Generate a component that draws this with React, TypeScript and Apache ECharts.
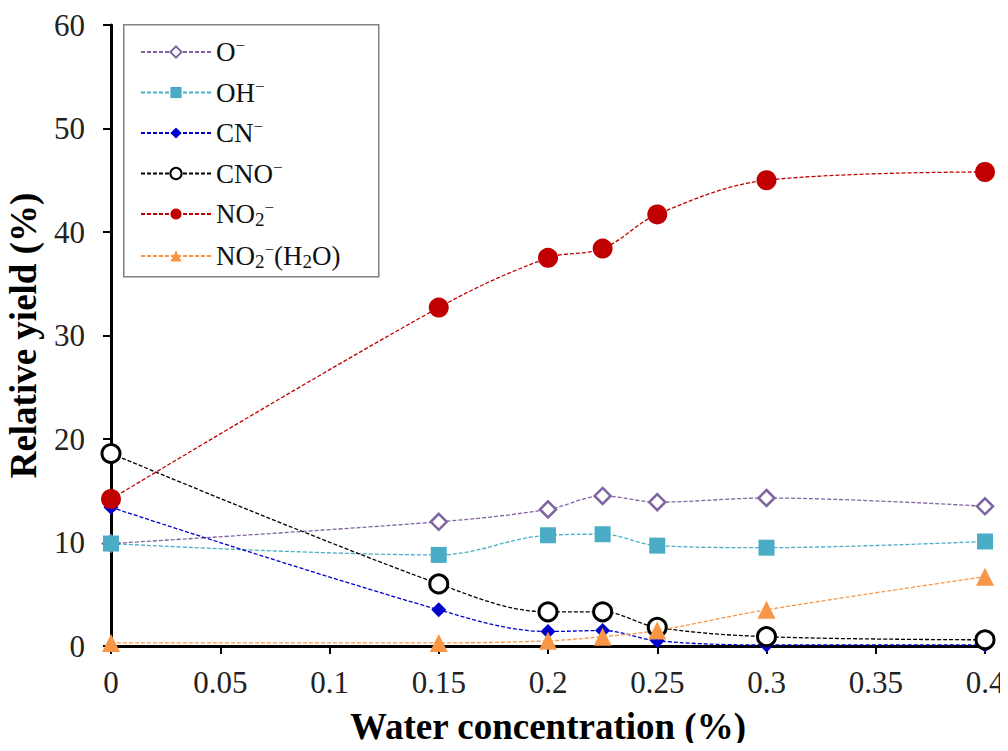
import React, { useEffect, useRef } from "react";
import * as echarts from "echarts";

const xValues = [0, 0.15, 0.2, 0.225, 0.25, 0.3, 0.4];
const xTicks = ["0", "0.05", "0.1", "0.15", "0.2", "0.25", "0.3", "0.35", "0.4"];
const yTicks = [0, 10, 20, 30, 40, 50, 60];

const oMinus = [9.9, 12.0, 13.2, 14.5, 13.9, 14.3, 13.5];
const ohMinus = [9.9, 8.8, 10.7, 10.8, 9.7, 9.5, 10.1];
const cnMinus = [13.4, 3.5, 1.4, 1.5, 0.5, 0.1, 0.1];
const cnoMinus = [18.6, 6.0, 3.3, 3.3, 1.8, 0.9, 0.6];
const no2Minus = [14.2, 32.7, 37.5, 38.4, 41.7, 45.0, 45.8];
const no2H2O = [0.3, 0.3, 0.5, 0.9, 1.5, 3.5, 6.7];

const seriesNames = ["O-", "OH-", "CN-", "CNO-", "NO2-", "NO2-(H2O)"];
const legendRich: Record<string, string> = {
  "O-": "{n|O}{sup|−}",
  "OH-": "{n|OH}{sup|−}",
  "CN-": "{n|CN}{sup|−}",
  "CNO-": "{n|CNO}{sup|−}",
  "NO2-": "{n|NO}{sub|2}{sup|−}",
  "NO2-(H2O)": "{n|NO}{sub|2}{sup|−}{n|(H}{sub|2}{n|O)}",
};

const FONT = "'Liberation Serif', 'Times New Roman', serif";

export default function App() {
  const ref = useRef<HTMLDivElement>(null);
  useEffect(() => {
    if (!ref.current) return;
    const chart = echarts.init(ref.current, undefined, { renderer: "svg" });
    const pair = (ys: number[]) => xValues.map((x, i) => [x, ys[i]]);
    const dash = [4, 2];
    const mk = (
      name: string,
      ys: number[],
      color: string,
      symbol: string,
      size: number,
      itemStyle: any
    ) => ({
      name,
      type: "line",
      data: pair(ys),
      smooth: 0.35,
      clip: false,
      symbol,
      symbolSize: size,
      lineStyle: { color, width: 1.3, type: dash },
      itemStyle,
      emphasis: { disabled: true },
    });
    chart.setOption({
      animation: false,
      backgroundColor: "#ffffff",
      grid: { left: 111, right: 23, top: 25, bottom: 105, containLabel: false, outerBoundsMode: "none" },
      xAxis: {
        type: "value",
        min: 0,
        max: 0.4,
        interval: 0.05,
        name: "Water concentration (%)",
        nameLocation: "middle",
        nameGap: 62,
        nameTextStyle: { fontFamily: FONT, fontWeight: "bold", fontSize: 37, color: "#000" },
        axisLine: { lineStyle: { color: "#000", width: 3 } },
        axisTick: { show: true, length: 8, lineStyle: { color: "#000", width: 2 } },
        axisLabel: {
          fontFamily: FONT,
          fontSize: 31,
          color: "#222",
          margin: 21,
          formatter: (v: number) => {
            const idx = Math.round(v / 0.05);
            return xTicks[idx] ?? "";
          },
        },
        splitLine: { show: false },
      },
      yAxis: {
        type: "value",
        min: yTicks[0],
        max: yTicks[yTicks.length - 1],
        interval: 10,
        name: "Relative yield (%)",
        nameLocation: "middle",
        nameGap: 69,
        nameTextStyle: { fontFamily: FONT, fontWeight: "bold", fontSize: 37, color: "#000" },
        axisLine: { show: true, lineStyle: { color: "#000", width: 3 } },
        axisTick: { show: true, length: 8, lineStyle: { color: "#000", width: 2 } },
        axisLabel: { fontFamily: FONT, fontSize: 31, color: "#222", margin: 26 },
        splitLine: { show: false },
      },
      graphic: [
        {
          type: "rect",
          left: 123,
          top: 24,
          shape: { width: 255, height: 252 },
          style: { fill: "#fff", stroke: "#808080", lineWidth: 1.5 },
          z: 5,
        },
      ],
      legend: {
        show: true,
        orient: "vertical",
        left: 135,
        top: 32,
        itemWidth: 70,
        itemHeight: 14,
        itemGap: 12,
        z: 10,
        data: seriesNames,
        formatter: (name: string) => legendRich[name] ?? name,
        textStyle: {
          fontFamily: FONT,
          fontSize: 27,
          color: "#111",
          rich: {
            n: { fontFamily: FONT, fontSize: 27, lineHeight: 30, color: "#111", verticalAlign: "middle" },
            sup: { fontFamily: FONT, fontSize: 17, lineHeight: 30, color: "#111", verticalAlign: "top", padding: [0, 0, 8, 0] },
            sub: { fontFamily: FONT, fontSize: 19, lineHeight: 30, color: "#111", verticalAlign: "bottom", padding: [10, 0, 0, 0] },
          },
        },
      },
      series: [
        mk("O-", oMinus, "#8064a2", "diamond", 16, { color: "#ffffff", borderColor: "#8064a2", borderWidth: 2.5 }),
        mk("OH-", ohMinus, "#4bacc6", "rect", 16, { color: "#4bacc6" }),
        mk("CN-", cnMinus, "#0000cc", "diamond", 15, { color: "#0000cc" }),
        mk("CNO-", cnoMinus, "#000000", "circle", 18, { color: "#ffffff", borderColor: "#000000", borderWidth: 3 }),
        mk("NO2-", no2Minus, "#c00000", "circle", 20, { color: "#c00000" }),
        mk("NO2-(H2O)", no2H2O, "#f79646", "triangle", 18, { color: "#f79646" }),
      ],
    });
    return () => chart.dispose();
  }, []);
  return <div ref={ref} style={{ width: 1008, height: 751, margin: -8 }} />;
}
